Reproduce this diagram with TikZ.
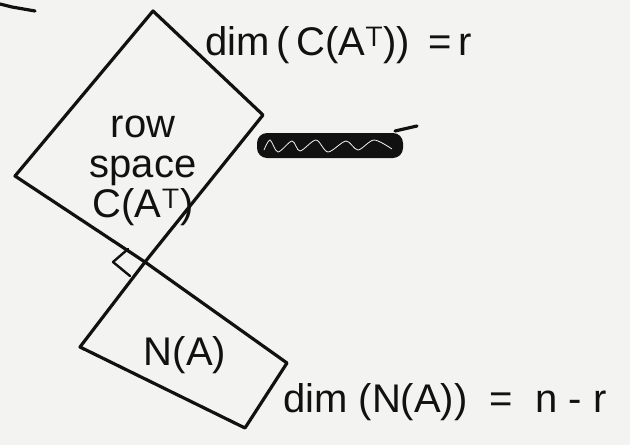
\documentclass[tikz,border=0pt]{standalone}
\usepackage{fontspec}
\setmainfont{Liberation Sans}
\usepackage{tikz}
\usetikzlibrary{calc}
\definecolor{paper}{HTML}{F3F3F1}
\definecolor{ink}{HTML}{111111}

\tikzset{
  pen/.style={draw=ink, line width=3.2pt, line join=round, line cap=round},
  hand/.style={text=ink, font=\fontsize{40}{40}\selectfont, inner sep=0pt},
}

\begin{document}
\begin{tikzpicture}[x=1pt, y=-1pt]
\fill[paper] (0,0) rectangle (630,445);
\useasboundingbox (0,0) rectangle (630,445);
% corners, in pixels of the sketch
\coordinate (J) at (145,262);
\coordinate (rtop) at (153,11);
\coordinate (rright) at (263,115);
\coordinate (rleft) at (15,176);
\coordinate (nleft) at (80,347);
\coordinate (nright) at (287,363);
\coordinate (nbot) at (245,428);
% row space
\draw[pen] (J) -- (rleft) -- (rtop) -- (rright) -- cycle;
\node[hand, align=center] (rowtxt) at (143,171) {row\\space\\C(A$^{\mathsf{T}}$)};
% null space
\draw[pen] (J) -- (nleft) -- (nbot) -- (nright) -- cycle;
\node[hand] (natxt) at (185,355) {N(A)};
% right angle mark
\draw[pen, line width=2.4pt] (128,249) -- (113,262) -- (130,276);
% labels
\node[hand, anchor=west] (dimc) at (205,45) {dim\,(\,C(A$^{\mathsf{T}}$)) \,=\,r};
\node[hand, anchor=west] (dimn) at (283,402) {dim\;(N(A))\;\;=\;\;n\;-\;r};
% stroke at top left
\draw[pen] (0,4) -- (12,7) -- (35,11);
% crossed out word
\fill[ink, rounded corners=10pt] (257,133) rectangle (403,158);
\draw[paper, line width=0.8pt] plot[smooth] coordinates {(264,150) (270,140) (278,152) (292,141) (300,151) (316,140) (328,152) (346,141) (358,150) (374,140) (392,149)};
\draw[pen] (395,131) -- (417,126);
\end{tikzpicture}
\end{document}
